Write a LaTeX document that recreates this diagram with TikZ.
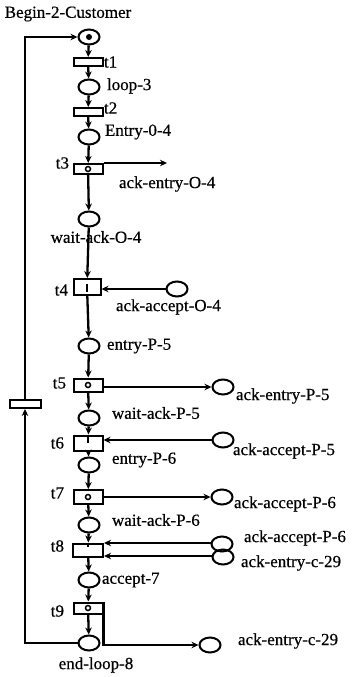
\documentclass[tikz,border=0pt]{standalone}
\usepackage{fontspec}
\setmainfont[FakeBold=0.5]{Liberation Serif}
\usetikzlibrary{shapes.geometric,arrows.meta}
\begin{document}
\begin{tikzpicture}[x=1pt,y=-1pt,
  line width=2pt,
  every node/.style={font=\fontsize{17}{19}\selectfont, inner sep=0pt},
  place/.style={draw, line width=2pt, ellipse, minimum width=21pt, minimum height=15pt},
  trans/.style={draw, line width=2pt, rectangle, minimum width=29pt},
  lbl/.style={anchor=west},
  tlbl/.style={anchor=east},
  arc/.style={line width=2.3pt, -{Stealth[length=7pt,width=6.5pt]}},
  tickmark/.style={line width=2pt},
  ring/.style={circle, draw, line width=1.5pt, minimum size=5pt}
]
\useasboundingbox (0,0) rectangle (362,677);

% places on the main path
\node[place] (p0) at (89,37) {};
\node[circle, fill, minimum size=6pt] (tok) at (p0) {};
\node[place] (loop3) at (89,87) {};
\node[place] (entry04) at (89,137) {};
\node[place] (waitO4) at (89,219) {};
\node[place] (entryP5) at (89,346) {};
\node[place] (waitP5) at (89,418) {};
\node[place] (entryP6) at (89,465) {};
\node[place] (waitP6) at (89,525) {};
\node[place] (accept7) at (89,580) {};
\node[place] (endloop) at (89,643) {};

% side places
\node[place] (ackaccO4) at (177,289) {};
\node[place] (ackentP5) at (223,387) {};
\node[place] (ackaccP5) at (223,440) {};
\node[place] (ackaccP6a) at (222,497) {};
\node[place] (ackaccP6b) at (222,544) {};
\node[place] (ackentc29a) at (223,557) {};
\node[place] (ackentc29b) at (210,645) {};

% transitions
\node[trans, minimum height=8pt] (t1) at (88,62) {};
\node[trans, minimum height=8pt] (t2) at (88,112) {};
\node[trans, minimum height=10pt] (t3) at (88,169) {};
\node[trans, minimum height=16pt, minimum width=27pt] (t4) at (87,287) {};
\node[trans, minimum height=13pt] (t5) at (88,385) {};
\node[trans, minimum height=15pt] (t6) at (88,443) {};
\node[trans, minimum height=14pt] (t7) at (88,497) {};
\node[trans, minimum height=13pt, minimum width=30pt] (t8) at (88,550) {};
\node[trans, minimum height=11pt] (t9) at (88,608) {};
\node[trans, minimum height=8pt, minimum width=31pt] (tb) at (25,404) {};

% marks inside transitions
\node[ring] at (t3) {};
\node[ring] at (t5) {};
\node[ring] at (t7) {};
\node[ring] at (t9) {};
\draw[tickmark] ([yshift=-5pt]t4.center) -- ([yshift=3pt]t4.center);
\draw[tickmark] (t6.north) -- (t6.center);
\draw[tickmark] (t8.north) -- ([yshift=3pt]t8.center);

% labels
\node at (68,14) {Begin-2-Customer};
\node[lbl] at (103,62) {t1};
\node[lbl] at (106,86) {loop-3};
\node[lbl] at (103,108) {t2};
\node[lbl] at (104,132) {Entry-0-4};
\node[tlbl] at (70,163) {t3};
\node[lbl] at (118,184) {ack-entry-O-4};
\node at (96,237) {wait-ack-O-4};
\node[tlbl] at (69,290) {t4};
\node[lbl] at (115,307) {ack-accept-O-4};
\node[lbl] at (106,346) {entry-P-5};
\node[tlbl] at (67,383) {t5};
\node[lbl] at (235,396) {ack-entry-P-5};
\node[lbl] at (111,413) {wait-ack-P-5};
\node[tlbl] at (65,443) {t6};
\node[lbl] at (232,451) {ack-accept-P-5};
\node[lbl] at (111,460) {entry-P-6};
\node[tlbl] at (65,493) {t7};
\node[lbl] at (233,504) {ack-accept-P-6};
\node[lbl] at (111,520) {wait-ack-P-6};
\node[tlbl] at (65,546) {t8};
\node[lbl] at (243,538) {ack-accept-P-6};
\node[lbl] at (240,563) {ack-entry-c-29};
\node[lbl] at (101,580) {accept-7};
\node[tlbl] at (65,611) {t9};
\node[lbl] at (237,641) {ack-entry-c-29};
\node at (96,665) {end-loop-8};

% arcs along the main path
\draw[arc] (p0) -- (t1);
\draw[arc] (t1) -- (loop3);
\draw[arc] (loop3) -- (t2);
\draw[arc] (t2) -- (entry04);
\draw[arc] (entry04) -- (t3);
\draw[arc] (t3) -- (waitO4);
\draw[arc] (waitO4) -- (t4);
\draw[arc] (t4) -- (entryP5);
\draw[arc] (entryP5) -- (t5);
\draw[arc] (t5) -- (waitP5);
\draw[arc] (waitP5) -- (t6);
\draw[arc] (t6) -- (entryP6);
\draw[arc] (entryP6) -- (t7);
\draw[arc] (t7) -- (waitP6);
\draw[arc] (waitP6) -- (t8);
\draw[arc] (t8) -- (accept7);
\draw[arc] (accept7) -- (t9);
\draw[arc] (t9) -- (endloop);

% side arcs
\coordinate (o4end) at (167,163);
\draw[arc] (t3.north east) -- (o4end);
\draw[arc] (ackaccO4.west) -- (ackaccO4.west -| t4.east);
\draw[arc] (t5.east |- ackentP5) -- (ackentP5.west);
\draw[arc] (ackaccP5.west) -- (ackaccP5.west -| t6.east);
\draw[arc] (t7.east |- ackaccP6a) -- (ackaccP6a.west);
\draw[arc] ([yshift=1pt]ackaccP6b.west) -- ([yshift=1pt]ackaccP6b.west -| t8.east);
\draw[arc] ([yshift=1pt]ackentc29a.west) -- ([yshift=1pt]ackentc29a.west -| t8.east);
\draw[arc] (t9.north east) -- (t9.north east |- ackentc29b) -- (ackentc29b.west);

% loop back to the start
\draw[arc] (endloop.west) -- (endloop.west -| tb) -- (tb.south);
\draw[arc] (tb.north) -- (tb.north |- p0) -- (p0.west);
\end{tikzpicture}
\end{document}
